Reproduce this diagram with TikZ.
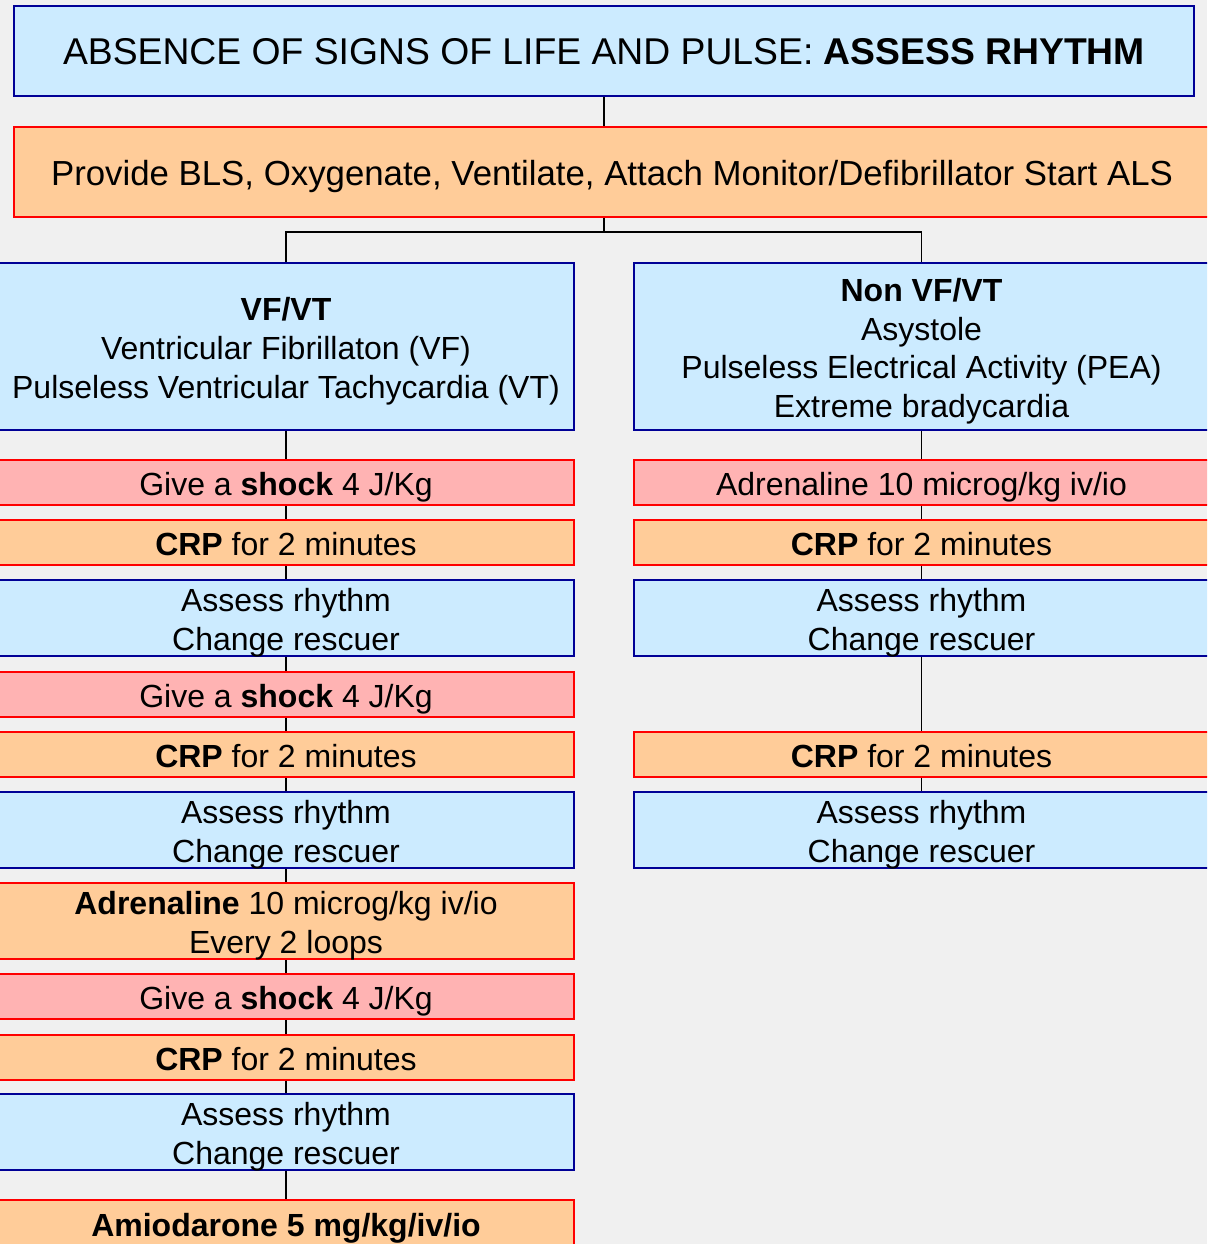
\documentclass[tikz,border=0pt]{standalone}
\usepackage{fontspec}
\setmainfont{Liberation Sans}
\usepackage{tikz}
\usetikzlibrary{positioning}
\definecolor{infocol}{RGB}{204,235,255}
\definecolor{infoline}{RGB}{0,0,150}
\definecolor{actcol}{RGB}{255,204,153}
\definecolor{shockcol}{RGB}{255,179,179}
\definecolor{bgcol}{RGB}{240,240,240}
\def\bodyfont{\fontsize{32}{38.7}\selectfont}

\begin{document}
\begin{tikzpicture}[
  x=1pt, y=-1pt,
  box/.style={rectangle, line width=2pt, align=center, inner sep=0pt, font=\bodyfont,
              text height=26pt, text depth=0pt},
  info/.style={box, draw=infoline, fill=infocol},
  act/.style={box, draw=red, fill=actcol},
  shockbox/.style={box, draw=red, fill=shockcol},
  lcol/.style={minimum width=576pt},
  rcol/.style={minimum width=575pt},
  two/.style={text height=64.7pt},
  e/.style={line width=1.5pt, black},
]
\fill[bgcol] (0,0) rectangle (1207,1244);
\useasboundingbox (0,0) rectangle (1207,1244);
\clip (0,0) rectangle (1207,1244);

\node[info, minimum width=1180pt, minimum height=90pt, font=\fontsize{37.3}{44}\selectfont,
      text height=28pt] (top) at (604,51)
  {ABSENCE OF SIGNS OF LIFE AND PULSE: \textbf{ASSESS RHYTHM}};
\node[act, minimum width=1196pt, minimum height=90pt, font=\fontsize{34.8}{40}\selectfont,
      text height=27pt] (prov) at (612,172)
  {Provide BLS, Oxygenate, Ventilate, Attach Monitor/Defibrillator Start ALS};

% left branch: VF/VT
\node[info, lcol, minimum height=167pt, text height=103.4pt] (vf) at (286,346.5)
  {\textbf{VF/VT}\\Ventricular Fibrillaton (VF)\\Pulseless Ventricular Tachycardia (VT)};
\node[shockbox, lcol, minimum height=45pt] (l1) at (286,482.5) {Give a \textbf{shock} 4 J/Kg};
\node[act, lcol, minimum height=45pt] (l2) at (286,542.5) {\textbf{CRP} for 2 minutes};
\node[info, lcol, two, minimum height=76pt] (l3) at (286,618) {Assess rhythm\\Change rescuer};
\node[shockbox, lcol, minimum height=45pt] (l4) at (286,694) {Give a \textbf{shock} 4 J/Kg};
\node[act, lcol, minimum height=45pt] (l5) at (286,754.5) {\textbf{CRP} for 2 minutes};
\node[info, lcol, two, minimum height=76pt] (l6) at (286,830) {Assess rhythm\\Change rescuer};
\node[act, lcol, two, minimum height=76pt] (l7) at (286,921) {\textbf{Adrenaline} 10 microg/kg iv/io\\Every 2 loops};
\node[shockbox, lcol, minimum height=45pt] (l8) at (286,996.5) {Give a \textbf{shock} 4 J/Kg};
\node[act, lcol, minimum height=45pt] (l9) at (286,1057) {\textbf{CRP} for 2 minutes};
\node[info, lcol, two, minimum height=76pt] (l10) at (286,1132) {Assess rhythm\\Change rescuer};
\node[act, lcol, minimum height=46pt] (l11) at (286,1223) {\textbf{Amiodarone 5 mg/kg/iv/io}};

% right branch: non VF/VT
\node[info, rcol, minimum height=167pt, text height=142.1pt] (nvf) at (921.5,346.5)
  {\textbf{Non VF/VT}\\Asystole\\Pulseless Electrical Activity (PEA)\\Extreme bradycardia};
\node[shockbox, rcol, minimum height=45pt] (r1) at (921.5,482.5) {Adrenaline 10 microg/kg iv/io};
\node[act, rcol, minimum height=45pt] (r2) at (921.5,542.5) {\textbf{CRP} for 2 minutes};
\node[info, rcol, two, minimum height=76pt] (r3) at (921.5,618) {Assess rhythm\\Change rescuer};
\node[act, rcol, minimum height=45pt] (r4) at (921.5,754.5) {\textbf{CRP} for 2 minutes};
\node[info, rcol, two, minimum height=76pt] (r5) at (921.5,830) {Assess rhythm\\Change rescuer};

\coordinate (split) at (604,232);
\draw[e] (top) -- (top.south |- prov.north);
\draw[e] (top.south |- prov.south) -- (split);
\draw[e] (split) -| (vf.north);  \draw[e] (split) -| (nvf.north);
\draw[e] (vf) -- (l1);  \draw[e] (l1) -- (l2);  \draw[e] (l2) -- (l3);
\draw[e] (l3) -- (l4);  \draw[e] (l4) -- (l5);  \draw[e] (l5) -- (l6);
\draw[e] (l6) -- (l7);  \draw[e] (l7) -- (l8);  \draw[e] (l8) -- (l9);
\draw[e] (l9) -- (l10); \draw[e] (l10) -- (l11);
\draw[e] (nvf) -- (r1); \draw[e] (r1) -- (r2);  \draw[e] (r2) -- (r3);
\draw[e] (r3) -- (r4);  \draw[e] (r4) -- (r5);
\end{tikzpicture}
\end{document}
